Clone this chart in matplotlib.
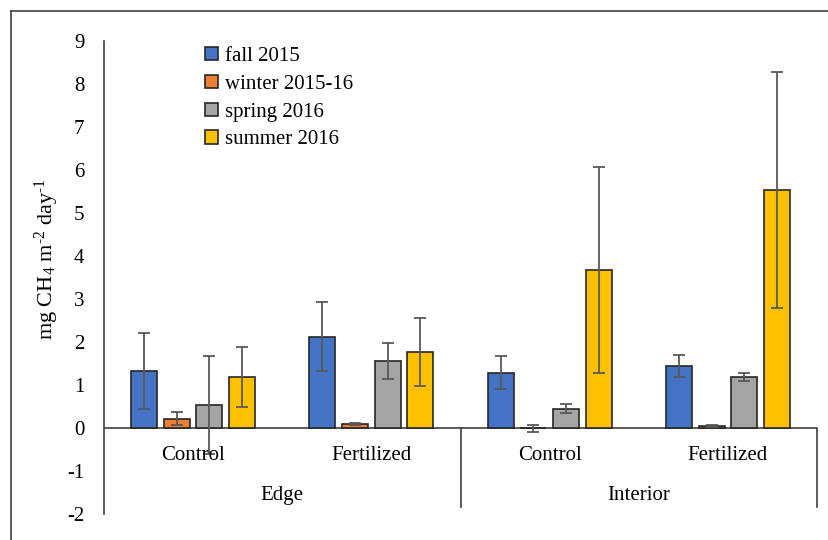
import matplotlib.pyplot as plt
import numpy as np

plt.rcParams['font.family'] = ['Liberation Serif', 'DejaVu Serif']
plt.rcParams['axes.unicode_minus'] = False
plt.rcParams['mathtext.fontset'] = 'custom'
plt.rcParams['mathtext.rm'] = 'Liberation Serif'
plt.rcParams['mathtext.it'] = 'Liberation Serif:italic'
plt.rcParams['mathtext.default'] = 'rm'

# categories
sites = ['Edge', 'Interior']
treatments = ['Control', 'Fertilized', 'Control', 'Fertilized']
seasons = ['fall 2015', 'winter 2015-16', 'spring 2016', 'summer 2016']
colors = ['#4472C4', '#ED7D31', '#A5A5A5', '#FFC000']

# mean CH4 flux per season (Edge Control, Edge Fertilized, Interior Control, Interior Fertilized)
fall = [1.33, 2.12, 1.29, 1.45]
winter = [0.22, 0.09, -0.01, 0.05]
spring = [0.54, 1.55, 0.45, 1.18]
summer = [1.19, 1.77, 3.68, 5.53]

# error bars
fall_err = [0.88, 0.80, 0.39, 0.26]
winter_err = [0.15, 0.02, 0.075, 0.03]
spring_err = [1.14, 0.42, 0.11, 0.09]
summer_err = [0.69, 0.80, 2.39, 2.75]

values = [fall, winter, spring, summer]
errors = [fall_err, winter_err, spring_err, summer_err]

fig = plt.figure(figsize=(8.29, 5.4), dpi=100)
ax = fig.add_axes([0.1255, 0.0481, 0.86, 0.8759])

x = np.arange(len(treatments))
step = 0.183
width = 0.146
for i in range(4):
    ax.bar(x + (i - 1.5) * step, values[i], width, color=colors[i],
           edgecolor='#262626', linewidth=1.2, label=seasons[i], zorder=2,
           yerr=errors[i], capsize=4.5,
           error_kw=dict(ecolor='#595959', elinewidth=1.3, capthick=1.3, zorder=3))

ax.set_xlim(-0.5, 3.5)
ax.set_ylim(-2, 9)
ax.set_yticks(range(-2, 10))
ax.tick_params(axis='y', length=0, labelsize=15, pad=14)
ax.set_xticks([])
for s in ['top', 'right', 'bottom']:
    ax.spines[s].set_visible(False)
ax.spines['left'].set_color('#404040')
ax.spines['left'].set_linewidth(1.2)
ax.axhline(0, color='#404040', lw=1.2, zorder=1)

# category labels and group separators
for xi, t in zip(x, treatments):
    ax.text(xi, -0.65, t, ha='center', va='center', fontsize=15)
for k, s in enumerate(sites):
    ax.text(2 * k + 0.5, -1.58, s, ha='center', va='center', fontsize=15)
for xs in [1.5, 3.5]:
    ax.plot([xs, xs], [0, -1.84], color='#404040', lw=1.2, clip_on=False)

ax.set_ylabel(r'mg CH$_4$ m$^{\text{-2}}$ day$^{\text{-1}}$', fontsize=16)
ax.yaxis.set_label_coords(-0.06, 0.54)

ax.legend(loc='upper left', bbox_to_anchor=(0.13, 1.005), frameon=False,
          fontsize=15, handlelength=0.6, handleheight=0.6, handletextpad=0.35,
          labelspacing=0.42, borderaxespad=0)

# outer frame
fig.add_artist(plt.Line2D([0.0133, 0.0133], [0, 0.98], color='#404040', lw=1.2))
fig.add_artist(plt.Line2D([0.0133, 1], [0.98, 0.98], color='#404040', lw=1.2))

fig.savefig('out.png', dpi=100)
